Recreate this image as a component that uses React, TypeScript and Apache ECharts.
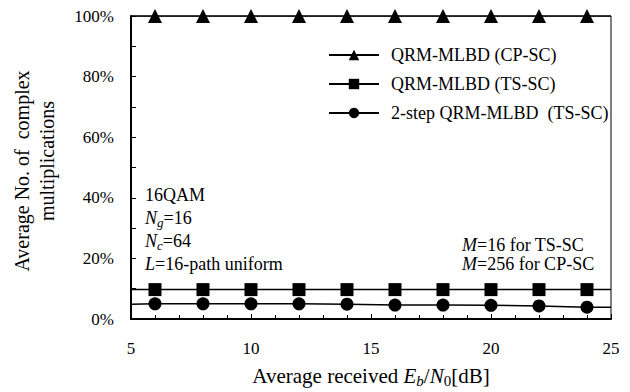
import React, { useEffect, useRef } from "react";
import * as echarts from "echarts";

const snr = [6, 8, 10, 12, 14, 16, 18, 20, 22, 24];
const cpsc = [100, 100, 100, 100, 100, 100, 100, 100, 100, 100];
const tssc = [9.7, 9.7, 9.7, 9.7, 9.7, 9.7, 9.7, 9.7, 9.7, 9.7];
const twoStep = [5.0, 5.0, 5.0, 5.0, 4.9, 4.6, 4.6, 4.5, 4.3, 3.9];
const edgeLeft = [100, 9.7, 4.85];
const edgeRight = [100, 9.7, 3.9];
const seriesNames = ["QRM-MLBD (CP-SC)", "QRM-MLBD (TS-SC)", "2-step QRM-MLBD  (TS-SC)"];
const symbols = ["triangle", "rect", "circle"];
const symbolSizes = [14, 13, 13];

const FONT = "'Liberation Serif', 'Times New Roman', serif";
const FS = 17;
const FA = 18;

export default function App() {
  const ref = useRef<HTMLDivElement>(null);
  useEffect(() => {
    if (!ref.current) return;
    const chart = echarts.init(ref.current, undefined, { renderer: "svg" });
    const all = [cpsc, tssc, twoStep];
    const series = all.map((vals, k) => ({
      type: "line",
      name: seriesNames[k],
      symbol: symbols[k],
      symbolSize: symbolSizes[k],
      showAllSymbol: true,
      lineStyle: { color: "#000", width: 1.5 },
      itemStyle: { color: "#000" },
      data: [
        { value: [5, edgeLeft[k]], symbol: "none" },
        ...snr.map((x, i) => [x, vals[i]]),
        { value: [25, edgeRight[k]], symbol: "none" },
      ],
      z: 3,
    }));
    const mk = (fs: number, sfs: number, pad: number) => ({
      i: { fontSize: fs, fontFamily: FONT, fontStyle: "italic", color: "#000" },
      r: { fontSize: fs, fontFamily: FONT, color: "#000" },
      s: { fontSize: sfs, fontFamily: FONT, fontStyle: "italic", padding: [pad, 0, 0, 0], color: "#000" },
      n: { fontSize: sfs, fontFamily: FONT, padding: [pad, 0, 0, 0], color: "#000" },
    });
    const richA = mk(FA, 13, 8);
    const richX = mk(21, 15, 9);
    const txt = (x: number, y: number, text: string, rich: any = richA, align = "left") => ({
      type: "text",
      x,
      y,
      style: { text, rich, font: `${FA}px ${FONT}`, fill: "#000", verticalAlign: "middle", align },
    });
    const rot = (x: number, y: number, text: string) => ({
      type: "text",
      x,
      y,
      rotation: Math.PI / 2,
      style: { text, font: `20px ${FONT}`, fill: "#000", verticalAlign: "middle", align: "center" },
    });
    chart.setOption({
      animation: false,
      textStyle: { fontFamily: FONT, color: "#000" },
      grid: {
        left: 131,
        right: 19,
        top: 16,
        bottom: 73,
        show: true,
        borderColor: "#000",
        borderWidth: 1,
      },
      legend: {
        orient: "vertical",
        left: 323,
        top: 41,
        itemWidth: 50,
        itemHeight: 13,
        itemGap: 11,
        textStyle: { fontFamily: FONT, fontSize: FA, color: "#000", padding: [0, 0, 0, 7] },
        data: seriesNames,
      },
      xAxis: {
        type: "value",
        min: 5,
        max: 25,
        interval: 5,
        axisLine: { lineStyle: { color: "#000", width: 2 } },
        axisTick: { inside: true, length: 5, lineStyle: { color: "#000" } },
        minorTick: { show: true, splitNumber: 5, length: 4, lineStyle: { color: "#000" } },
        splitLine: { show: false },
        axisLabel: { fontFamily: FONT, fontSize: FS, color: "#000", margin: 21 },
      },
      yAxis: {
        type: "value",
        min: 0,
        max: 100,
        interval: 20,
        axisLine: { show: true, lineStyle: { color: "#000", width: 2 } },
        axisTick: { show: true, inside: true, length: 5, lineStyle: { color: "#000" } },
        minorTick: { show: true, splitNumber: 2, length: 5, lineStyle: { color: "#000" } },
        splitLine: { show: false },
        axisLabel: { fontFamily: FONT, fontSize: FS, color: "#000", margin: 17, formatter: "{value}%" },
      },
      graphic: [
        txt(145, 195, "{r|16QAM}"),
        txt(145, 218, "{i|N}{s|g}{r|=16}"),
        txt(145, 241, "{i|N}{s|c}{r|=64}"),
        txt(145, 264, "{i|L}{r|=16-path uniform}"),
        txt(462, 245, "{i|M}{r|=16 for TS-SC}"),
        txt(462, 264, "{i|M}{r|=256 for CP-SC}"),
        txt(371, 376, "{r|Average received }{i|E}{s|b}{r|/}{i|N}{n|0}{r|[dB]}", richX, "center"),
        rot(22, 171, "Average No. of  complex"),
        rot(47, 161, "multiplications"),
      ],
      series,
    });
    return () => chart.dispose();
  }, []);
  return <div ref={ref} style={{ width: 630, height: 392, position: "absolute", left: 0, top: 0 }} />;
}
